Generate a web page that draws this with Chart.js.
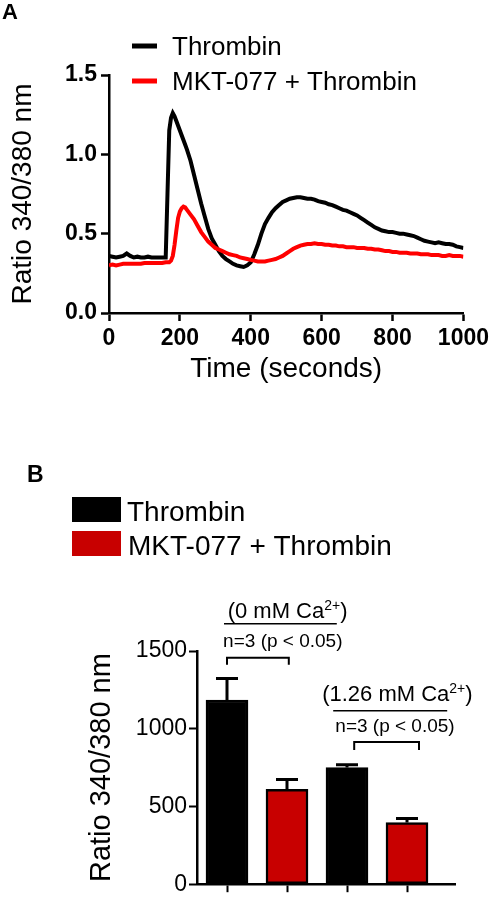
<!DOCTYPE html>
<html>
<head>
<meta charset="utf-8">
<script src="https://cdn.jsdelivr.net/npm/chart.js@4.4.1/dist/chart.umd.min.js"></script>
<style>
  html, body { margin: 0; padding: 0; background: #fff; }
  #wrap { position: relative; width: 493px; height: 900px; }
  canvas { position: absolute; left: 0; }
  #traceChart { top: 0; }
  #barChart { top: 440px; }
</style>
</head>
<body>
<div id="wrap">
  <canvas id="traceChart" width="493" height="420"></canvas>
  <canvas id="barChart" width="493" height="460"></canvas>
</div>
<script>
// ---- panel A: ratio traces ----
const timeSec = [0,10,20,30,40,50,60,70,80,90,100,110,120,130,140,150,160,
  165,170,175,180,185,190,195,200,205,210,215,
  220,230,240,250,260,270,280,290,300,310,320,330,340,350,360,370,380,390,400,410,
  420,430,440,450,460,470,480,490,500,510,520,530,540,550,560,570,580,590,600,610,
  620,630,640,650,660,670,680,690,700,710,720,730,740,750,760,770,780,790,800,810,
  820,830,840,850,860,870,880,890,900,910,920,930,940,950,960,970,980,990,1000];

const thrombinTrace = [0.36,0.355,0.35,0.355,0.36,0.375,0.36,0.35,0.355,0.35,0.35,0.355,0.35,0.35,0.35,0.35,0.35,
  0.75,1.15,1.23,1.26,1.24,1.21,1.18,1.15,1.12,1.09,1.06,
  1.03,0.96,0.87,0.78,0.69,0.61,0.53,0.47,0.43,0.39,0.36,0.34,0.325,0.31,0.30,0.295,0.29,0.30,0.32,0.37,
  0.43,0.50,0.56,0.60,0.635,0.66,0.68,0.70,0.71,0.72,0.725,0.73,0.73,0.725,0.72,0.72,0.715,0.705,0.70,0.695,
  0.685,0.68,0.67,0.66,0.65,0.645,0.635,0.625,0.615,0.60,0.585,0.57,0.555,0.54,0.53,0.52,0.515,0.51,0.51,0.505,
  0.50,0.50,0.495,0.49,0.485,0.475,0.465,0.455,0.45,0.445,0.44,0.445,0.44,0.435,0.435,0.43,0.42,0.415,0.41];

const mktTrace = [0.30,0.305,0.30,0.305,0.31,0.31,0.31,0.31,0.31,0.31,0.315,0.315,0.315,0.315,0.315,0.315,0.32,
  0.32,0.32,0.33,0.36,0.43,0.52,0.60,0.64,0.66,0.67,0.665,
  0.65,0.62,0.59,0.55,0.51,0.48,0.45,0.43,0.41,0.40,0.39,0.38,0.37,0.365,0.36,0.35,0.345,0.34,0.335,0.33,
  0.325,0.325,0.325,0.33,0.335,0.34,0.35,0.36,0.375,0.39,0.405,0.415,0.425,0.43,0.435,0.435,0.44,0.435,0.435,0.43,
  0.43,0.425,0.425,0.42,0.42,0.415,0.415,0.415,0.41,0.41,0.41,0.405,0.405,0.40,0.40,0.395,0.39,0.39,0.385,0.385,
  0.38,0.38,0.38,0.375,0.375,0.375,0.37,0.37,0.37,0.365,0.365,0.365,0.36,0.36,0.365,0.36,0.36,0.36,0.355];

// ---- panel B: peak ratio bars ----
const thrombinSlot = [0, 2];
const thrombinMean = [1185, 750];
const thrombinSem = [138, 19];
const mktSlot = [1, 3];
const mktMean = [611, 397];
const mktSem = [63, 25];
const barSlots = [0, 1, 2, 3];

const seriesNames = ["Thrombin", "MKT-077 + Thrombin"];
const nLabel = "n=3 (p < 0.05)";
const caCharge = "2+";

const FONT = '"Liberation Sans", Arial, sans-serif';
Chart.defaults.font.family = FONT;
Chart.defaults.color = "#000";

// A: legend + letter
const traceExtras = {
  id: "traceExtras",
  afterDraw(chart) {
    const ctx = chart.ctx;
    ctx.save();
    ctx.fillStyle = "#000";
    ctx.textBaseline = "alphabetic";
    ctx.font = "bold 22px " + FONT;
    ctx.fillText("A", 2, 19);
    ctx.font = "26px " + FONT;
    chart.data.datasets.forEach((ds, i) => {
      const y = 46 + i * 35;
      ctx.strokeStyle = ds.borderColor;
      ctx.lineWidth = 5;
      ctx.beginPath();
      ctx.moveTo(132, y);
      ctx.lineTo(157, y);
      ctx.stroke();
      ctx.fillText(ds.label, 172, y + 9);
    });
    ctx.restore();
  }
};

new Chart(document.getElementById("traceChart"), {
  type: "line",
  data: {
    datasets: [
      {
        label: seriesNames[0],
        data: timeSec.map((t, i) => ({ x: t, y: thrombinTrace[i] })),
        borderColor: "#000000",
        borderWidth: 4,
        pointRadius: 0,
        tension: 0,
        order: 1
      },
      {
        label: seriesNames[1],
        data: timeSec.map((t, i) => ({ x: t, y: mktTrace[i] })),
        borderColor: "#ff0000",
        borderWidth: 4,
        pointRadius: 0,
        tension: 0,
        order: 0
      }
    ]
  },
  options: {
    responsive: false,
    animation: false,
    layout: { padding: { left: 0, top: 75, right: 26, bottom: 0 } },
    plugins: { legend: { display: false }, tooltip: { enabled: false } },
    scales: {
      x: {
        type: "linear",
        min: 0,
        max: 1000,
        afterFit: (s) => { s.height = 107; },
        ticks: { stepSize: 200, font: { size: 23, weight: "bold" }, padding: 4, maxRotation: 0, callback: (v) => String(v) },
        grid: { drawOnChartArea: false, tickLength: 8, tickWidth: 2.5, tickColor: "#000" },
        border: { color: "#000", width: 2.5 },
        title: { display: true, text: "Time (seconds)", font: { size: 28 }, padding: { top: 0, bottom: 34 } }
      },
      y: {
        min: 0,
        max: 1.5,
        afterFit: (s) => { s.width = 109; },
        ticks: { stepSize: 0.5, font: { size: 23, weight: "bold" }, padding: 4, callback: (v) => v.toFixed(1) },
        grid: { drawOnChartArea: false, tickLength: 8, tickWidth: 2.5, tickColor: "#000" },
        border: { color: "#000", width: 2.5 },
        title: { display: true, text: "Ratio 340/380 nm", font: { size: 28 }, padding: { top: 6, bottom: 0 } }
      }
    }
  },
  plugins: [traceExtras]
});

// B: annotation layout in data units
const caGroups = [
  { head: "(0 mM Ca", tail: ")", textX: 1.01, textY: 1712, lineX: [-0.05, 1.83], lineY: 1676,
    nX: 0.93, nY: 1527, bracketX: [0, 1.03], bracketY: [1456, 1412] },
  { head: "(1.26 mM Ca", tail: ")", textX: 2.84, textY: 1180, lineX: [1.77, 3.67], lineY: 1115,
    nX: 2.8, nY: 981, bracketX: [2.12, 3.2], bracketY: [914, 863] }
];

const errorBars = {
  id: "errorBars",
  afterDatasetsDraw(chart) {
    const ctx = chart.ctx;
    const yScale = chart.scales.y;
    const sems = [thrombinSem, mktSem];
    const means = [thrombinMean, mktMean];
    ctx.save();
    ctx.strokeStyle = "#000";
    ctx.lineWidth = 3;
    chart.data.datasets.forEach((ds, di) => {
      chart.getDatasetMeta(di).data.forEach((bar, j) => {
        const top = yScale.getPixelForValue(means[di][j] + sems[di][j]);
        ctx.beginPath();
        ctx.moveTo(bar.x, bar.y);
        ctx.lineTo(bar.x, top);
        ctx.moveTo(bar.x - 11, top);
        ctx.lineTo(bar.x + 11, top);
        ctx.stroke();
      });
    });
    ctx.restore();
  }
};

const barExtras = {
  id: "barExtras",
  afterDraw(chart) {
    const ctx = chart.ctx;
    const xs = chart.scales.x, ys = chart.scales.y;
    ctx.save();
    ctx.fillStyle = "#000";
    ctx.textBaseline = "alphabetic";
    ctx.font = "bold 23px " + FONT;
    ctx.fillText("B", 27, 42);

    // legend
    ctx.font = "28px " + FONT;
    chart.data.datasets.forEach((ds, i) => {
      const y = 57 + i * 34;
      ctx.fillStyle = ds.backgroundColor;
      ctx.fillRect(72, y, 49, 25);
      ctx.fillStyle = "#000";
      ctx.fillText(ds.label, 127 + i, y + 24);
    });

    // significance annotations
    caGroups.forEach((g) => {
      ctx.font = "22px " + FONT;
      const w1 = ctx.measureText(g.head).width;
      const w3 = ctx.measureText(g.tail).width;
      ctx.font = "14px " + FONT;
      const w2 = ctx.measureText(caCharge).width;
      let x = xs.getPixelForValue(g.textX) - (w1 + w2 + w3) / 2;
      const base = ys.getPixelForValue(g.textY);
      ctx.font = "22px " + FONT;
      ctx.fillText(g.head, x, base);
      ctx.font = "14px " + FONT;
      ctx.fillText(caCharge, x + w1, base - 8);
      ctx.font = "22px " + FONT;
      ctx.fillText(g.tail, x + w1 + w2, base);

      ctx.strokeStyle = "#000";
      ctx.lineWidth = 1.5;
      const ly = ys.getPixelForValue(g.lineY);
      ctx.beginPath();
      ctx.moveTo(xs.getPixelForValue(g.lineX[0]), ly);
      ctx.lineTo(xs.getPixelForValue(g.lineX[1]), ly);
      ctx.stroke();

      ctx.font = "19px " + FONT;
      ctx.textAlign = "center";
      ctx.fillText(nLabel, xs.getPixelForValue(g.nX), ys.getPixelForValue(g.nY));
      ctx.textAlign = "left";

      const bx0 = xs.getPixelForValue(g.bracketX[0]);
      const bx1 = xs.getPixelForValue(g.bracketX[1]);
      const bTop = ys.getPixelForValue(g.bracketY[0]);
      const bLeg = ys.getPixelForValue(g.bracketY[1]);
      ctx.lineWidth = 2;
      ctx.beginPath();
      ctx.moveTo(bx0, bLeg);
      ctx.lineTo(bx0, bTop);
      ctx.lineTo(bx1, bTop);
      ctx.lineTo(bx1, bLeg);
      ctx.stroke();
    });
    ctx.restore();
  }
};

new Chart(document.getElementById("barChart"), {
  type: "bar",
  data: {
    datasets: [
      {
        label: seriesNames[0],
        data: thrombinSlot.map((s, i) => ({ x: s, y: thrombinMean[i] })),
        backgroundColor: "#000000",
        borderColor: "#000000",
        borderWidth: 2.5,
        borderSkipped: false,
        barThickness: 42,
        grouped: false
      },
      {
        label: seriesNames[1],
        data: mktSlot.map((s, i) => ({ x: s, y: mktMean[i] })),
        backgroundColor: "#c80000",
        borderColor: "#000000",
        borderWidth: 2.5,
        borderSkipped: false,
        barThickness: 42,
        grouped: false
      }
    ]
  },
  options: {
    responsive: false,
    animation: false,
    layout: { padding: { left: 0, top: 211, right: 38, bottom: 0 } },
    plugins: { legend: { display: false }, tooltip: { enabled: false } },
    scales: {
      x: {
        type: "linear",
        min: -0.5,
        max: 3.8,
        offset: false,
        afterFit: (s) => { s.height = 11; },
        afterBuildTicks: (s) => { s.ticks = barSlots.map((v) => ({ value: v })); },
        ticks: { callback: () => "" },
        grid: { offset: false, drawOnChartArea: false, tickLength: 8, tickWidth: 2, tickColor: "#000" },
        border: { color: "#000", width: 2.5 }
      },
      y: {
        min: 0,
        max: 1500,
        afterFit: (s) => { s.width = 197; },
        ticks: { stepSize: 500, font: { size: 23 }, padding: 2, callback: (v) => String(v) },
        grid: { drawOnChartArea: false, tickLength: 8, tickWidth: 2, tickColor: "#000" },
        border: { color: "#000", width: 2.5 },
        title: { display: true, text: "Ratio 340/380 nm", font: { size: 29 }, padding: { top: 85, bottom: 0 } }
      }
    }
  },
  plugins: [errorBars, barExtras]
});
</script>
</body>
</html>
